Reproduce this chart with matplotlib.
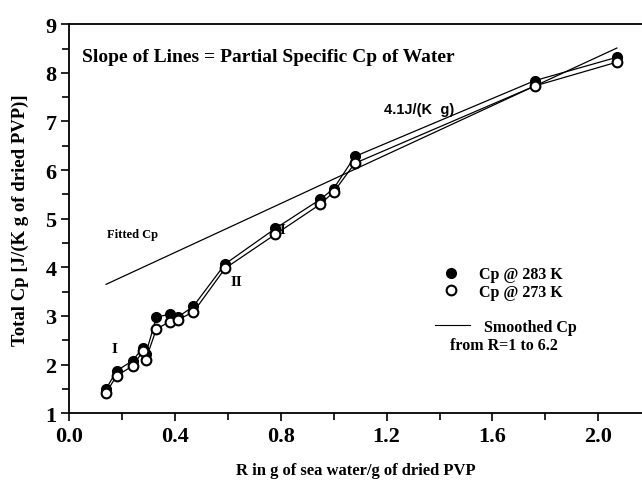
import numpy as np
import matplotlib.pyplot as plt
from matplotlib.lines import Line2D

# Данни, отчетени от графиката
R = [0.14, 0.18, 0.24, 0.28, 0.29, 0.33, 0.38, 0.41, 0.47, 0.59, 0.78, 0.95, 1.00, 1.08, 1.76, 2.07]
cp_283 = [1.50, 1.87, 2.08, 2.35, 2.22, 2.97, 3.04, 2.97, 3.20, 4.07, 4.80, 5.40, 5.62, 6.28, 7.84, 8.32]
cp_273 = [1.42, 1.77, 1.97, 2.28, 2.10, 2.73, 2.88, 2.92, 3.08, 3.98, 4.68, 5.30, 5.55, 6.14, 7.73, 8.22]

# Изгладена права (Smoothed Cp)
R_fit = [0.14, 2.07]
cp_fit = [3.65, 8.51]

serif = ['Liberation Serif', 'DejaVu Serif']
plt.rcParams['font.family'] = serif
plt.rcParams['font.weight'] = 'bold'

fig = plt.figure(figsize=(6.42, 4.85), dpi=100)
ax = fig.add_axes([0.1075, 0.146, 0.8925, 0.802])

ax.plot(R_fit, cp_fit, color='black', lw=0.9)
ax.plot(R, cp_283, '-o', color='black', lw=0.9, ms=7, mfc='black', mec='black', zorder=3)
ax.plot(R, cp_273, '-o', color='black', lw=0.9, ms=7, mfc='white', mec='black', mew=1.5, zorder=4)

ax.set_xlim(0, 2.165)
ax.set_ylim(1, 9)
ax.set_xticks(np.arange(0, 2.01, 0.4))
ax.set_xticks(np.arange(0, 2.17, 0.2), minor=True)
ax.set_yticks(range(1, 10))
ax.set_yticks(np.arange(1, 9.01, 0.5), minor=True)
ax.xaxis.set_major_formatter(lambda v, p: f"{v:.1f}")
ax.tick_params(which='both', direction='out', width=1.2, labelsize=16, pad=3)
ax.tick_params(which='major', length=6)
ax.tick_params(which='minor', length=5)
for lab in ax.get_xticklabels() + ax.get_yticklabels():
    lab.set_fontweight('bold')
ax.spines['right'].set_visible(False)
for s in ['left', 'bottom', 'top']:
    ax.spines[s].set_linewidth(1.3)

ax.set_xlabel("R in g of sea water/g of dried PVP", fontsize=12, fontweight='bold', labelpad=12)
ax.set_ylabel("Total Cp [J/(K g of dried PVP)]", fontsize=13.5, fontweight='bold')
ax.yaxis.set_label_coords(-0.07, 0.5)

ax.text(0.05, 8.33, "Slope of Lines = Partial Specific Cp of Water", fontsize=14,
        fontweight='bold', va='center')
ax.text(1.19, 7.25, "4.1J/(K  g)", fontsize=10.5, family=['Liberation Sans', 'DejaVu Sans'],
        fontweight='bold', va='center')
ax.text(0.142, 4.68, "Fitted Cp", fontsize=9, fontweight='bold', va='center')
ax.text(0.17, 2.33, "I", fontsize=11, fontweight='bold', va='center', ha='center')
ax.text(0.632, 3.70, "II", fontsize=11, fontweight='bold', va='center', ha='center')
ax.text(0.80, 4.78, "II", fontsize=11, fontweight='bold', va='center', ha='center', zorder=2)

leg_font = {'family': serif, 'weight': 'bold', 'size': 11.5}
handles = [
    Line2D([], [], ls='none', marker='o', ms=7, mfc='black', mec='black'),
    Line2D([], [], ls='none', marker='o', ms=7, mfc='white', mec='black', mew=1.5),
]
leg1 = ax.legend(handles, ["Cp @ 283 K", "Cp @ 273 K"], frameon=False, loc='upper left',
                 bbox_to_anchor=(0.62, 0.415), prop=leg_font,
                 handlelength=1.5, handletextpad=1.0, labelspacing=0.1)
ax.add_artist(leg1)
leg2 = ax.legend([Line2D([], [], color='black', lw=0.8)], ["Smoothed Cp"], frameon=False,
                 loc='upper left', bbox_to_anchor=(0.613, 0.28), prop=leg_font,
                 handlelength=2.2, handletextpad=0.9)
ax.text(0.665, 0.175, "from R=1 to 6.2", transform=ax.transAxes, fontsize=11.5,
        fontweight='bold', va='center')

fig.savefig("out.png", dpi=100)
